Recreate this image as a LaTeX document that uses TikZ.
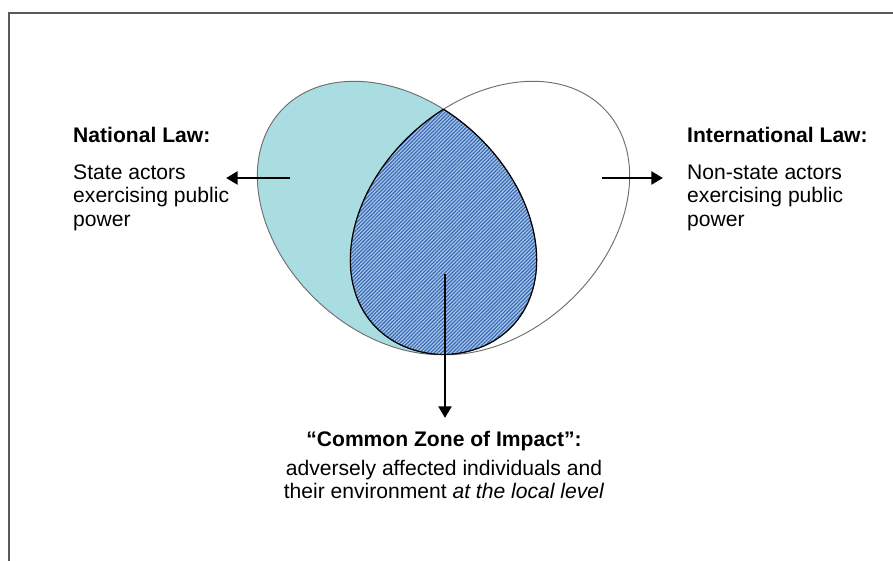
\documentclass[tikz,border=0pt]{standalone}
\usepackage{fontspec}
\setmainfont{Liberation Sans}
\usetikzlibrary{arrows.meta,patterns.meta}
\definecolor{framegray}{RGB}{90,90,90}
\definecolor{linegray}{RGB}{110,110,110}
\definecolor{tealfill}{RGB}{170,221,225}
\definecolor{lenslight}{RGB}{168,200,236}
\definecolor{lensdark}{RGB}{58,104,178}

\begin{document}
\begin{tikzpicture}[x=0.03cm, y=0.03cm, auto,
    lbl/.style={inner sep=0pt, font=\fontsize{18pt}{20pt}\selectfont},
    arr/.style={-{Triangle[length=10pt,width=11pt]}, line width=2.4pt},
    natell/.style={shift={(397,343)}, rotate=-43},
    intell/.style={shift={(490,343)}, rotate=43}]

    \useasboundingbox (0,0) rectangle (893,561);
    \draw [framegray, line width=1.4pt] (893,548) -- (9,548) -- (9,0);

    \fill [tealfill] [natell] (0,0) ellipse [x radius=158, y radius=115];
    \begin{scope}
      \clip [natell] (0,0) ellipse [x radius=158, y radius=115];
      \clip [intell] (0,0) ellipse [x radius=158, y radius=115];
      \fill [lenslight] (300,180) rectangle (600,480);
      \fill [pattern={Lines[angle=45, distance=2.2pt, line width=1pt]}, pattern color=lensdark] (300,180) rectangle (600,480);
    \end{scope}
    \draw [linegray, line width=0.8pt] [natell] (0,0) ellipse [x radius=158, y radius=115];
    \draw [linegray, line width=0.8pt] [intell] (0,0) ellipse [x radius=158, y radius=115];
    \begin{scope}
      \clip [intell] (0,0) ellipse [x radius=158, y radius=115];
      \draw [black, line width=1pt] [natell] (0,0) ellipse [x radius=158, y radius=115];
    \end{scope}
    \begin{scope}
      \clip [natell] (0,0) ellipse [x radius=158, y radius=115];
      \draw [black, line width=1pt] [intell] (0,0) ellipse [x radius=158, y radius=115];
    \end{scope}

    \node [lbl, anchor=north west, align=left] (nat) at (73,434) {\textbf{National Law:}\\[11.5pt] State actors\\ exercising public\\ power};
    \node [lbl, anchor=north west, align=left] (intl) at (687,434) {\textbf{International Law:}\\[11.5pt] Non-state actors\\ exercising public\\ power};
    \node [lbl, anchor=north, align=center] (zone) at (444,130) {\textbf{“Common Zone of Impact”:}\\[4.75pt] adversely affected individuals and\\ their environment \textit{at the local level}};

    \coordinate (nata) at (290,383);
    \coordinate (natb) at (226,383);
    \coordinate (inta) at (602,383);
    \coordinate (intb) at (663,383);
    \coordinate (zonea) at (445,287);
    \coordinate (zoneb) at (445,143);

    \draw [arr] (nata) -- (natb);
    \draw [arr] (inta) -- (intb);
    \draw [arr] (zonea) -- (zoneb);

  \end{tikzpicture}
\end{document}
